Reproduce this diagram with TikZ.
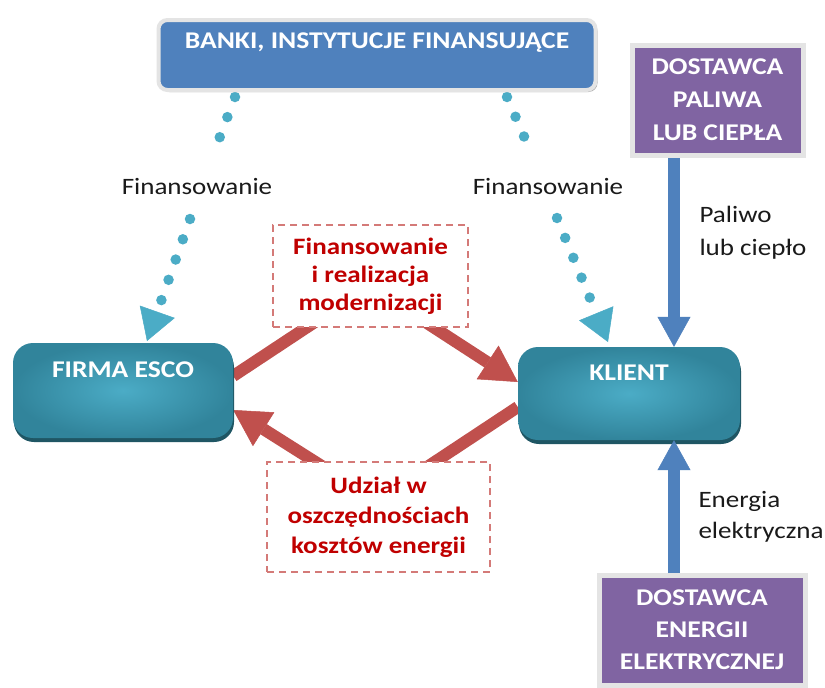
\documentclass[tikz,border=0pt]{standalone}
\usepackage{fontspec}
\setmainfont{Carlito}[FakeStretch=1.15]
\usetikzlibrary{arrows.meta,shadows,calc}
\definecolor{bankblue}{HTML}{4F81BD}
\definecolor{purp}{HTML}{8064A2}
\definecolor{tealin}{HTML}{4BACC6}
\definecolor{tealout}{HTML}{31849B}
\definecolor{tealdark}{HTML}{1F5664}
\definecolor{dotcol}{HTML}{4BACC6}
\definecolor{redarr}{HTML}{C0504D}
\definecolor{redtxt}{HTML}{C00000}
\definecolor{dashred}{HTML}{D47A78}
\definecolor{txtcol}{HTML}{1A1A1A}
\definecolor{framegray}{HTML}{E4E4E4}
\tikzset{
  whitebold/.style={text=white,font=\bfseries\fontsize{24}{28}\selectfont},
  bankbox/.style={rounded corners=9pt,fill=bankblue,draw=framegray,line width=4pt,
    minimum width=437pt,minimum height=70pt,
    drop shadow={shadow xshift=2pt,shadow yshift=-2pt,fill=gray!60,opacity=1}},
  purpbox/.style={fill=purp,draw=framegray,line width=5pt,align=center,
    drop shadow={shadow xshift=3pt,shadow yshift=-3pt,fill=gray!55,opacity=1},
    text=white},
  tealbox/.style={rounded corners=20pt,shading=radial,inner color=tealin,outer color=tealout,
    drop shadow={shadow xshift=1pt,shadow yshift=-4pt,fill=tealdark,opacity=1}},
  dashbox/.style={draw=dashred,line width=1.4pt,dash pattern=on 7pt off 5pt,fill=white,
    align=center,text=redtxt},
  plainlbl/.style={text=txtcol,font=\fontsize{23.5}{33}\selectfont},
  dotline/.style={draw=dotcol,line width=10.5pt,dash pattern=on 0pt off 21.5pt,line cap=round},
  dottip/.style={-{Triangle[length=31pt,width=37pt,line width=0.5pt,fill=dotcol]}},
  redline/.style={draw=redarr,line width=12pt,line join=round},
  redtip/.style={-{Triangle[length=36pt,width=40pt,line width=0.5pt,fill=redarr]}},
  blueline/.style={draw=bankblue,line width=12pt,
    -{Triangle[length=30pt,width=33pt,line width=0.5pt,fill=bankblue]}},
}
\begin{document}
\begin{tikzpicture}[x=1pt,y=-1pt]
\useasboundingbox (0,0) rectangle (825,688);
\fill[white] (0,0) rectangle (825,688);

% dotted connectors (behind the bank box)
\coordinate (d1s) at (235,97);
\coordinate (d1e) at (213,155);
\coordinate (d1r) at (190,219);
\coordinate (d1t) at (147,341);
\coordinate (d2s) at (507,97);
\coordinate (d2e) at (532,155);
\coordinate (d2r) at (557,218);
\coordinate (d2t) at (608,342);
\draw[dotline] (d1s) -- (d1e);
\draw[dotline,dottip] (d1r) -- (d1t);
\draw[dotline] (d2s) -- (d2e);
\draw[dotline,dottip] (d2r) -- (d2t);

% bank box
\node[bankbox,label={[whitebold,anchor=center,yshift=-25pt]north:BANKI, INSTYTUCJE FINANSUJĄCE}] (banki) at (377,55) {};

% labels on dotted connectors
\node[plainlbl] (fin1) at (197,186) {Finansowanie};
\node[plainlbl] (fin2) at (548,186) {Finansowanie};

% red arrows
\coordinate (r1) at (330,312);
\coordinate (r2) at (410,312);
\coordinate (r3) at (415,475);
\coordinate (r4) at (336,475);
\node[minimum width=220pt,minimum height=95pt] (escoph) at (123,390.5) {};
\node[minimum width=222pt,minimum height=93pt] (klientph) at (629,393.5) {};
\draw[redline,redtip] ([yshift=14.5pt]escoph.east) -- (r1) -- (r2) -- ([yshift=11.5pt]klientph.west);
\draw[redline,redtip] ([yshift=-13.5pt]klientph.west) -- (r3) -- (r4) -- ([yshift=-19.5pt]escoph.east);

% teal boxes
\node[tealbox,minimum width=220pt,minimum height=95pt,
  label={[whitebold,anchor=center,yshift=-27pt]north:FIRMA ESCO}] (esco) at (123,390.5) {};
\node[tealbox,minimum width=222pt,minimum height=93pt,
  label={[whitebold,anchor=center,yshift=-26pt]north:KLIENT}] (klient) at (629,393.5) {};

% dashed boxes
\node[dashbox,minimum width=195pt,minimum height=102pt,
  font=\bfseries\fontsize{23.5}{28}\selectfont] (finbox) at (370.5,276)
  {Finansowanie\\i realizacja\\modernizacji};
\node[dashbox,minimum width=223pt,minimum height=110pt,
  font=\bfseries\fontsize{23.5}{30}\selectfont] (udzbox) at (378.5,517)
  {Udział w\\oszczędnościach\\kosztów energii};

% purple boxes
\node[purpbox,minimum width=171pt,minimum height=110pt,
  font=\bfseries\fontsize{24}{33}\selectfont] (paliwa) at (717.5,100)
  {DOSTAWCA\\PALIWA\\LUB CIEPŁA};
\node[purpbox,minimum width=206pt,minimum height=110pt,
  font=\bfseries\fontsize{24}{32}\selectfont] (energii) at (702,630)
  {DOSTAWCA\\ENERGII\\ELEKTRYCZNEJ};

% blue arrows
\coordinate (b1) at (674,158);
\coordinate (b2) at (674,573);
\draw[blueline] (b1) -- (b1 |- klient.north);
\draw[blueline] (b2) -- (b2 |- klient.south);

\node[plainlbl,anchor=west,align=left] (paliwo) at (696,233) {Paliwo\\lub ciepło};
\node[plainlbl,anchor=west,align=left,font=\fontsize{23.5}{31}\selectfont] (energia) at (695,517) {Energia\\elektryczna};
\end{tikzpicture}
\end{document}
